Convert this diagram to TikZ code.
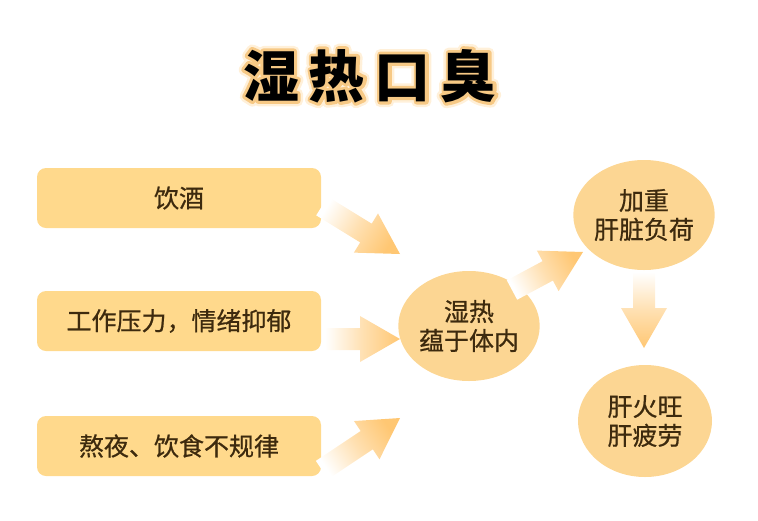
\documentclass[tikz,border=0pt]{standalone}
\usepackage{fontspec}
\newfontfamily\cjk{Noto Sans CJK SC}
\newfontfamily\cjkm[FakeBold=0.7]{Noto Sans CJK SC}
\usetikzlibrary{shapes.geometric,calc}
\definecolor{boxc}{HTML}{FFD98C}
\definecolor{ellc}{HTML}{FCD693}
\definecolor{txtc}{HTML}{3D2A0E}
\definecolor{arrc}{HTML}{FFC773}
\newcommand\fatarrow[3]{%
  \coordinate (h) at ($(#2)!40pt!(#1)$);
  \shade[top color=white, bottom color=arrc, middle color=arrc!55, shading angle=#3]
    ($(#1)!11pt!90:(#2)$) -- ($(h)!11pt!90:(#2)$) -- ($(h)!23pt!90:(#2)$) -- (#2)
    -- ($(h)!23pt!-90:(#2)$) -- ($(h)!11pt!-90:(#2)$) -- ($(#1)!11pt!-90:(#2)$) -- cycle;}
\newcommand\titletext{湿\hspace{10pt}热\hspace{10pt}口\hspace{10pt}臭}
\newcommand\glowtitle{%
  \rlap{\special{pdf:code 1 Tr 1 j 11 w 1 0.94 0.85 RG}\titletext\special{pdf:code 0 Tr 0.4 w}}%
  \rlap{\special{pdf:code 1 Tr 1 j 6 w 0.97 0.79 0.52 RG}\titletext\special{pdf:code 0 Tr 0.4 w}}%
  \titletext}
\begin{document}
\begin{tikzpicture}[x=1pt,y=-1pt,
  cause/.style={rounded corners=9pt, fill=boxc, minimum width=284pt, minimum height=60pt,
    inner sep=0pt, text=txtc, font=\cjkm\fontsize{25}{29}\selectfont},
  bubble/.style={ellipse, fill=ellc, inner sep=0pt, align=center, text=txtc,
    font=\cjkm\fontsize{25}{29}\selectfont},
  ttl/.style={inner sep=0pt, text=black, font=\cjk\bfseries\fontsize{56}{60}\selectfont}]
\useasboundingbox (0,0) rectangle (758,520);
% title with glow outline
\node[ttl] (title) at (370,76) {\glowtitle};
% causes
\node[cause] (c1) at (179,198) {饮酒};
\node[cause] (c2) at (179,321) {工作压力，情绪抑郁};
\node[cause] (c3) at (179,446) {熬夜、饮食不规律};
% bubbles
\node[bubble, minimum width=133pt, minimum height=110pt] (m) at (469,326) {湿热\\蕴于体内};
\node[bubble, minimum width=138pt, minimum height=110pt] (r1) at (644,215) {加重\\肝脏负荷};
\node[bubble, minimum width=134pt, minimum height=112pt] (r2) at (645,421) {肝火旺\\肝疲劳};
% arrows
\coordinate (t1) at (322,206); \coordinate (p1) at (400,254);
\coordinate (t2) at (325,339); \coordinate (p2) at (400,339);
\coordinate (t3) at (322,470); \coordinate (p3) at (400,418);
\coordinate (t4) at (512,290); \coordinate (p4) at (583,252);
\coordinate (t5) at (644,272); \coordinate (p5) at (644,348);
\fatarrow{t1}{p1}{58.4}
\fatarrow{t2}{p2}{90}
\fatarrow{t3}{p3}{123.7}
\fatarrow{t4}{p4}{118.2}
\fatarrow{t5}{p5}{0}
\end{tikzpicture}
\end{document}
